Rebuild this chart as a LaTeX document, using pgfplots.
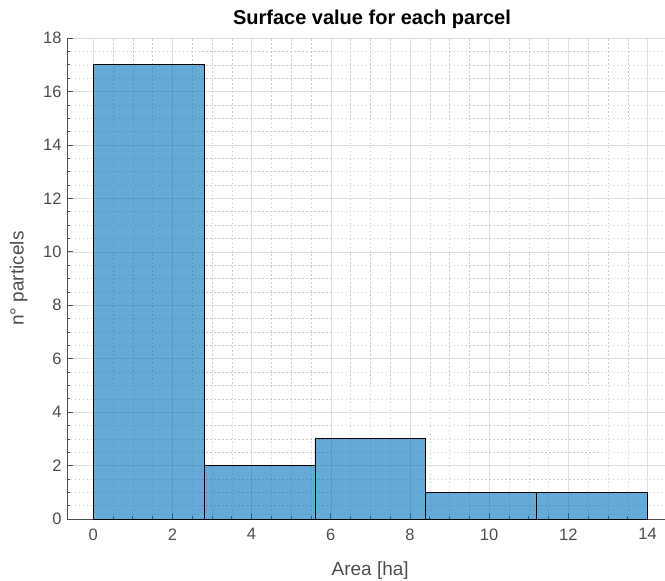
\documentclass[border=0pt]{standalone}
\usepackage{fontspec}
\setmainfont{Liberation Sans}
\usepackage{pgfplots}
\pgfplotsset{compat=1.18}
\definecolor{matblue}{RGB}{0,114,189}
\definecolor{tickgray}{RGB}{77,77,77}
\definecolor{axgray}{RGB}{38,38,38}
\begin{document}
\begin{tikzpicture}
\begin{axis}[
  at={(0,0)}, anchor=south west,
  scale only axis, width=598bp, height=481bp,
  xmin=-0.66, xmax=14.44, ymin=0, ymax=18,
  axis x line*=bottom, axis y line*=left,
  axis line style={draw=axgray!80, line width=0.6pt, -},
  xtick={0,2,...,14}, ytick={0,2,...,18},
  minor x tick num=3, minor y tick num=3,
  tick align=inside,
  major tick length=6bp, minor tick length=3bp,
  tick style={draw=axgray!80, line width=0.6pt},
  grid=both,
  major grid style={draw=black!13, line width=0.5pt},
  minor grid style={draw=black!20, line width=0.4pt, dash pattern=on 1.5pt off 2.5pt},
  /pgf/number format/assume math mode=true,
  ticklabel style={font=\fontsize{16.5bp}{18bp}\selectfont, text=tickgray},
  xticklabel style={yshift=-6bp},
  yticklabel style={xshift=-2bp},
  xlabel={Area [ha]},
  ylabel={n° particels},
  label style={font=\fontsize{19bp}{22bp}\selectfont, text=tickgray},
  xlabel style={at={(axis description cs:0.507,0)}, anchor=north, yshift=-39bp},
  ylabel style={at={(axis description cs:0,0.5)}, anchor=south, yshift=36bp},
  title={Surface value for each parcel},
  title style={font=\fontsize{20bp}{24bp}\selectfont\bfseries, at={(axis description cs:0.51,1)}, anchor=south, yshift=0bp},
]
\addplot[ybar interval, fill=matblue, fill opacity=0.6, draw=black, line width=0.7pt]
  coordinates {(0,17) (2.8,2) (5.6,3) (8.4,1) (11.2,1) (14,1)};
\end{axis}
\pgfresetboundingbox
\path (-67bp,-62bp) rectangle (598bp,519bp);
\end{tikzpicture}
\end{document}
